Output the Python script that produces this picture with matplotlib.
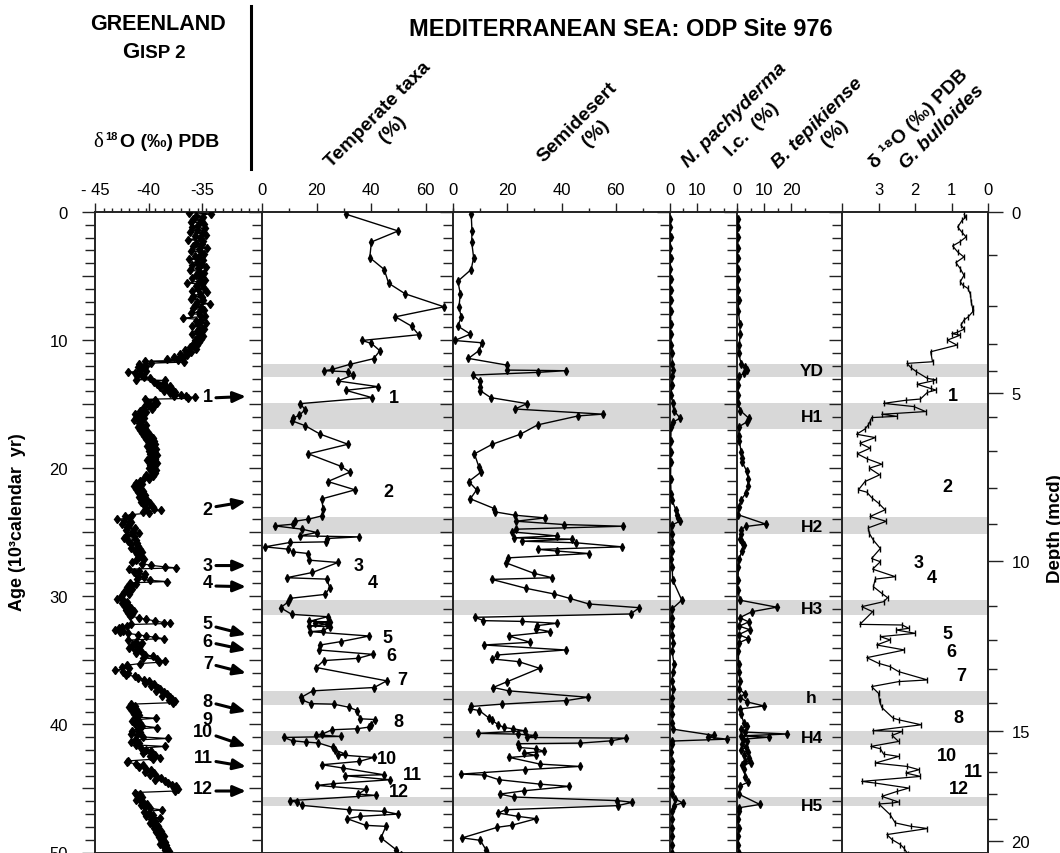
import matplotlib
matplotlib.use("Agg")
import matplotlib.pyplot as plt
from matplotlib.lines import Line2D
from matplotlib.ticker import FixedLocator, MultipleLocator

plt.rcParams['font.family'] = ['Liberation Sans', 'DejaVu Sans']

# ---------------- data ----------------
# GISP2 d18O vs age (kyr)
gisp_age = [
    0.05, 0.15, 0.28, 0.40, 0.52, 0.65, 0.78, 0.90, 1.03, 1.15,
    1.28, 1.40, 1.53, 1.65, 1.78, 1.90, 2.03, 2.15, 2.28, 2.40,
    2.53, 2.65, 2.78, 2.90, 3.03, 3.15, 3.28, 3.40, 3.53, 3.65,
    3.78, 3.90, 4.03, 4.15, 4.28, 4.40, 4.53, 4.65, 4.78, 4.90,
    5.03, 5.15, 5.28, 5.40, 5.53, 5.65, 5.78, 5.90, 6.03, 6.15,
    6.28, 6.40, 6.53, 6.65, 6.78, 6.90, 7.03, 7.15, 7.28, 7.40,
    7.53, 7.65, 7.78, 7.90, 8.03, 8.15, 8.28, 8.40, 8.53, 8.65,
    8.78, 8.90, 9.03, 9.15, 9.28, 9.40, 9.53, 9.65, 9.78, 9.90,
    10.03, 10.15, 10.28, 10.40, 10.55, 10.68, 10.80, 10.92, 11.05, 11.18,
    11.30, 11.40, 11.50, 11.58, 11.65, 11.72, 11.80, 11.90, 12.00, 12.10,
    12.20, 12.30, 12.40, 12.50, 12.58, 12.68, 12.78, 12.88, 12.98, 13.08,
    13.15, 13.25, 13.35, 13.45, 13.55, 13.65, 13.75, 13.85, 13.95, 14.05,
    14.15, 14.25, 14.33, 14.40, 14.48, 14.55, 14.62, 14.70, 14.80, 14.90,
    15.00, 15.12, 15.25, 15.38, 15.50, 15.62, 15.75, 15.88, 16.00, 16.12,
    16.25, 16.38, 16.50, 16.62, 16.75, 16.88, 17.00, 17.12, 17.25, 17.38,
    17.50, 17.62, 17.75, 17.88, 18.00, 18.12, 18.25, 18.38, 18.50, 18.62,
    18.75, 18.88, 19.00, 19.12, 19.25, 19.38, 19.50, 19.62, 19.75, 19.88,
    20.00, 20.12, 20.25, 20.38, 20.50, 20.62, 20.75, 20.88, 21.00, 21.12,
    21.25, 21.38, 21.50, 21.62, 21.75, 21.88, 22.00, 22.12, 22.25, 22.38,
    22.50, 22.62, 22.75, 22.88, 23.00, 23.10, 23.20, 23.30, 23.40, 23.50,
    23.62, 23.75, 23.88, 24.00, 24.10, 24.20, 24.32, 24.45, 24.58, 24.70,
    24.82, 24.95, 25.08, 25.20, 25.32, 25.45, 25.58, 25.70, 25.82, 25.95,
    26.08, 26.20, 26.32, 26.45, 26.58, 26.70, 26.82, 26.95, 27.08, 27.20,
    27.32, 27.45, 27.58, 27.70, 27.78, 27.88, 28.00, 28.12, 28.25, 28.38,
    28.50, 28.62, 28.75, 28.85, 28.95, 29.05, 29.18, 29.30, 29.42, 29.55,
    29.68, 29.80, 29.92, 30.05, 30.18, 30.30, 30.42, 30.55, 30.68, 30.80,
    30.92, 31.05, 31.18, 31.30, 31.42, 31.55, 31.68, 31.80, 31.92, 32.05,
    32.12, 32.20, 32.30, 32.40, 32.50, 32.60, 32.70, 32.80, 32.90, 33.00,
    33.10, 33.20, 33.30, 33.42, 33.55, 33.68, 33.80, 33.92, 34.05, 34.18,
    34.30, 34.42, 34.55, 34.68, 34.80, 34.92, 35.05, 35.15, 35.25, 35.38,
    35.50, 35.62, 35.75, 35.88, 36.00, 36.12, 36.25, 36.38, 36.50, 36.62,
    36.75, 36.88, 37.00, 37.12, 37.25, 37.38, 37.50, 37.62, 37.75, 37.88,
    38.00, 38.10, 38.20, 38.30, 38.42, 38.55, 38.68, 38.80, 38.92, 39.05,
    39.18, 39.30, 39.42, 39.52, 39.62, 39.75, 39.88, 40.00, 40.12, 40.25,
    40.35, 40.48, 40.60, 40.72, 40.85, 40.98, 41.10, 41.22, 41.35, 41.48,
    41.60, 41.72, 41.85, 41.98, 42.10, 42.22, 42.35, 42.48, 42.60, 42.72,
    42.85, 42.95, 43.08, 43.20, 43.32, 43.45, 43.58, 43.70, 43.82, 43.95,
    44.08, 44.20, 44.32, 44.45, 44.58, 44.70, 44.82, 44.95, 45.08, 45.20,
    45.32, 45.42, 45.55, 45.68, 45.80, 45.92, 46.05, 46.18, 46.30, 46.42,
    46.55, 46.68, 46.80, 46.92, 47.05, 47.18, 47.30, 47.42, 47.55, 47.68,
    47.80, 47.92, 48.05, 48.18, 48.30, 48.42, 48.55, 48.68, 48.80, 48.92,
    49.05, 49.18, 49.30, 49.42, 49.55, 49.68, 49.80, 49.92, 50.00, 50.10,
]
gisp_d18o = [
    -36.2, -34.2, -35.6, -34.9, -35.8, -35.1, -36.0, -34.8, -35.4, -35.9,
    -34.7, -35.5, -36.1, -35.0, -34.6, -35.7, -35.2, -36.3, -34.9, -35.6,
    -35.0, -35.8, -34.5, -35.3, -36.0, -35.1, -34.8, -35.7, -35.3, -36.2,
    -34.9, -35.5, -35.0, -35.9, -34.6, -35.4, -36.1, -35.2, -34.8, -35.6,
    -35.1, -35.9, -34.7, -35.3, -36.4, -35.0, -35.6, -34.8, -35.4, -35.9,
    -34.5, -35.2, -35.8, -35.0, -36.0, -34.9, -35.5, -34.3, -35.7, -35.1,
    -35.8, -34.8, -35.3, -36.0, -35.2, -34.7, -36.8, -35.1, -35.6, -34.6,
    -35.4, -35.9, -35.0, -34.8, -35.5, -35.2, -35.9, -34.9, -35.4, -35.1,
    -35.7, -35.3, -35.8, -35.5, -36.1, -35.6, -36.6, -36.0, -37.1, -36.4,
    -37.6, -36.8, -38.3, -37.2, -40.3, -36.7, -39.8, -40.9, -40.2, -41.0,
    -40.4, -40.8, -40.2, -41.9, -41.3, -40.7, -41.1, -40.4, -39.9, -41.2,
    -38.5, -39.5, -38.6, -39.2, -38.0, -38.9, -38.3, -37.8, -38.6, -37.5,
    -38.0, -37.0, -37.6, -36.5, -35.7, -36.3, -40.3, -39.4, -40.1, -39.2,
    -40.0, -39.5, -40.4, -39.7, -40.8, -40.2, -41.3, -40.6, -41.1, -40.4,
    -41.4, -40.7, -40.9, -40.2, -41.0, -40.5, -40.8, -40.1, -40.6, -39.9,
    -40.4, -39.6, -40.2, -39.5, -40.0, -39.4, -40.1, -39.7, -39.3, -40.0,
    -39.5, -39.9, -39.2, -39.8, -39.4, -40.1, -39.6, -39.2, -39.9, -39.5,
    -40.0, -39.3, -39.8, -39.4, -40.2, -39.6, -40.4, -40.0, -40.8, -41.2,
    -40.6, -41.4, -40.9, -41.2, -40.5, -41.0, -40.7, -40.3, -40.9, -40.4,
    -40.1, -40.7, -39.9, -40.4, -39.6, -40.2, -39.5, -38.8, -40.5, -40.0,
    -41.5, -42.2, -41.8, -42.9, -42.3, -41.6, -42.5, -41.8, -42.0, -41.3,
    -42.1, -41.5, -40.9, -42.0, -41.4, -42.3, -41.2, -41.9, -41.1, -41.6,
    -41.0, -41.6, -40.8, -41.3, -40.6, -41.1, -40.7, -40.9, -40.4, -41.2,
    -41.5, -40.6, -39.8, -38.5, -37.4, -41.8, -40.9, -41.4, -40.3, -41.0,
    -40.4, -41.1, -39.9, -38.3, -41.7, -41.2, -41.6, -42.0, -41.5, -41.9,
    -42.3, -41.8, -42.5, -42.6, -42.9, -42.4, -42.0, -42.5, -41.9, -42.2,
    -41.6, -42.1, -41.4, -41.9, -41.5, -41.7, -40.9, -40.2, -39.4, -38.6,
    -38.0, -41.6, -42.0, -42.5, -42.8, -43.1, -42.4, -42.7, -41.9, -41.0,
    -40.2, -39.4, -38.6, -41.9, -41.2, -40.6, -41.5, -40.9, -41.8, -41.3,
    -40.7, -41.2, -40.3, -39.6, -40.5, -39.2, -38.5, -39.0, -40.8, -42.0,
    -42.5, -41.8, -43.1, -42.4, -41.9, -42.1, -41.3, -41.0, -40.4, -40.0,
    -40.3, -39.5, -39.8, -39.1, -38.9, -39.3, -38.6, -38.3, -38.7, -38.0,
    -37.8, -38.1, -37.5, -37.7, -41.6, -41.3, -41.8, -41.2, -41.5, -41.0,
    -41.4, -40.9, -41.2, -39.3, -41.0, -41.5, -40.8, -41.3, -40.6, -39.2,
    -41.0, -41.5, -40.8, -41.6, -41.1, -40.5, -38.2, -41.3, -41.6, -40.9,
    -41.2, -38.5, -40.7, -40.2, -39.8, -40.5, -39.4, -39.9, -38.9, -39.6,
    -41.9, -42.0, -41.2, -40.5, -40.9, -40.2, -39.8, -40.3, -39.5, -39.9,
    -39.2, -38.8, -39.4, -38.5, -38.2, -37.8, -37.4, -37.6, -37.2, -37.5,
    -41.3, -40.8, -41.1, -40.6, -40.9, -41.2, -40.5, -40.1, -40.7, -40.3,
    -39.9, -38.7, -40.4, -40.0, -39.6, -40.2, -38.9, -39.8, -39.4, -39.9,
    -39.6, -39.1, -39.5, -39.2, -38.8, -39.3, -38.9, -38.6, -39.0, -38.7,
    -38.8, -38.5, -38.9, -38.4, -38.6, -38.3, -38.5, -38.1, -38.3, -38.2,
]

# Temperate taxa (%)
temp_age = [0.18, 1.48, 2.34, 3.56, 4.49, 5.56, 6.39, 7.40, 8.18, 8.91,
            9.58, 10.03, 10.26, 10.83, 11.45, 11.90, 12.29, 12.39, 12.47, 12.73,
            13.19, 13.64, 13.92, 14.49, 14.96, 15.43, 15.87, 16.10, 16.31, 16.68,
            17.35, 18.13, 18.88, 19.84, 20.31, 21.04, 21.69, 22.39, 23.15, 23.72,
            23.98, 24.14, 24.37, 24.50, 24.76, 25.02, 25.28, 25.36, 25.49, 25.75,
            25.80, 26.14, 26.32, 26.53, 26.66, 27.18, 27.36, 28.14, 28.55, 28.66,
            29.33, 29.85, 30.16, 30.47, 30.89, 31.41, 31.59, 31.95, 32.00, 32.05,
            32.19, 32.32, 32.37, 32.68, 32.76, 33.10, 33.54, 33.80, 34.19, 34.53,
            34.84, 35.02, 35.56, 36.60, 37.12, 37.38, 37.90, 38.08, 38.38, 38.42,
            38.66, 38.92, 39.56, 39.62, 40.03, 40.21, 40.34, 40.42, 40.76, 40.81,
            40.94, 41.02, 41.28, 41.38, 41.45, 41.80, 42.01, 42.32, 42.37, 42.58,
            42.89, 43.15, 43.41, 43.93, 44.01, 44.32, 44.63, 44.76, 45.07, 45.44,
            45.54, 45.95, 46.08, 46.32, 46.66, 46.79, 47.00, 47.18, 47.36, 47.88,
            47.96, 48.86, 49.77, 50.20]
temp_pct = [30.9, 49.9, 40.1, 39.5, 44.8, 46.4, 52.5, 66.7, 48.9, 54.8,
            57.4, 36.7, 40.1, 43.2, 40.9, 32.1, 25.7, 22.8, 31.5, 33.3,
            27.8, 42.6, 30.7, 40.3, 14.0, 15.8, 13.7, 11.2, 11.1, 15.8,
            21.4, 31.5, 17.0, 28.8, 32.2, 24.1, 34.1, 22.0, 22.3, 22.0,
            17.0, 12.1, 11.5, 4.7, 14.6, 20.1, 13.9, 35.6, 23.8, 23.6,
            10.2, 1.0, 9.6, 11.2, 17.0, 17.3, 27.8, 18.5, 9.0, 23.8,
            24.8, 23.2, 10.2, 9.4, 6.8, 10.9, 24.1, 17.4, 25.1, 19.5,
            23.8, 17.4, 25.1, 22.3, 17.7, 39.3, 28.8, 21.4, 21.0, 40.5,
            35.2, 22.6, 19.9, 45.7, 41.1, 18.6, 14.3, 14.6, 18.0, 26.3,
            31.9, 34.9, 35.9, 41.4, 39.9, 39.3, 34.7, 25.7, 22.0, 19.9,
            28.8, 8.0, 11.2, 16.2, 20.7, 26.0, 26.9, 30.6, 27.8, 40.9,
            35.6, 22.0, 29.8, 44.6, 30.6, 47.0, 26.0, 20.1, 38.0, 35.2,
            41.7, 10.2, 12.7, 14.6, 31.9, 44.6, 49.8, 35.9, 31.2, 38.0,
            45.4, 43.6, 49.1, 51.0]

# Semidesert (%)
semi_age = [0.13, 1.48, 2.34, 3.56, 4.49, 5.40, 6.39, 7.40, 8.18, 8.91,
            9.53, 10.03, 10.21, 10.83, 11.43, 11.95, 12.34, 12.39, 12.52, 12.73,
            13.19, 13.64, 13.95, 14.49, 14.96, 15.38, 15.78, 15.92, 16.62, 17.35,
            18.13, 18.88, 19.87, 20.31, 21.04, 21.69, 22.39, 23.15, 23.41, 23.67,
            23.88, 24.14, 24.40, 24.53, 24.76, 24.97, 25.28, 25.44, 25.54, 25.70,
            25.82, 26.14, 26.34, 26.47, 26.66, 27.00, 27.38, 28.21, 28.55, 28.68,
            29.38, 29.82, 30.16, 30.60, 30.89, 31.38, 31.64, 31.90, 31.96, 32.11,
            32.29, 32.55, 32.76, 33.10, 33.59, 33.80, 34.19, 34.58, 34.89, 35.10,
            35.62, 36.66, 37.12, 37.38, 37.88, 38.14, 38.42, 38.60, 38.79, 38.92,
            39.51, 39.69, 40.03, 40.24, 40.34, 40.50, 40.70, 40.76, 40.86, 41.02,
            41.07, 41.28, 41.46, 41.51, 41.80, 41.90, 42.11, 42.24, 42.42, 42.58,
            43.10, 43.28, 43.54, 43.88, 43.95, 44.32, 44.66, 44.84, 45.18, 45.44,
            45.67, 45.95, 46.08, 46.34, 46.66, 46.92, 47.18, 47.36, 47.88, 48.03,
            48.86, 49.05, 49.77, 50.20]
semi_pct = [6.7, 7.0, 6.9, 7.6, 6.7, 1.8, 2.7, 2.2, 3.0, 1.8,
            6.4, 0.6, 10.7, 9.5, 5.7, 19.8, 19.8, 41.5, 31.2, 7.3,
            9.9, 10.1, 10.1, 13.9, 27.3, 22.8, 55.2, 46.1, 31.2, 24.8,
            14.5, 7.9, 9.5, 10.3, 5.8, 8.7, 6.4, 15.2, 15.5, 22.8,
            33.9, 23.3, 41.0, 62.8, 23.3, 21.6, 38.2, 22.4, 44.0, 25.5,
            45.2, 62.4, 31.5, 38.5, 50.1, 20.2, 19.4, 29.9, 36.6, 14.3,
            27.0, 37.3, 43.0, 50.1, 68.7, 65.5, 8.1, 11.2, 25.5, 38.2,
            30.9, 30.7, 35.8, 20.6, 28.5, 11.5, 41.5, 16.4, 14.5, 24.2,
            31.9, 20.0, 14.8, 20.6, 49.7, 41.8, 17.9, 6.7, 6.3, 9.7,
            13.3, 14.5, 16.7, 18.8, 22.1, 26.4, 9.1, 23.9, 30.1, 27.3,
            63.6, 58.4, 47.0, 23.9, 24.2, 30.5, 33.7, 26.1, 30.5, 20.8,
            32.1, 46.7, 26.4, 3.0, 11.5, 17.0, 31.9, 42.8, 26.3, 17.3,
            22.4, 60.6, 66.1, 60.8, 19.4, 16.7, 23.9, 30.7, 21.6, 16.4,
            3.4, 10.1, 12.1, 13.0]

# N. pachyderma l.c. (%)
npach_age = [0.51, 1.16, 1.98, 2.80, 3.62, 4.44, 5.26, 6.08, 6.90, 7.72,
             8.71, 9.53, 10.35, 11.00, 11.83, 12.32, 12.81, 13.47, 14.29, 14.94,
             15.50, 16.09, 16.40, 16.75, 17.90, 18.71, 19.54, 20.85, 22.00, 22.49,
             23.30, 23.64, 23.90, 24.13, 24.46, 25.12, 25.77, 26.43, 27.08, 27.74,
             28.72, 30.30, 31.02, 31.67, 32.33, 32.99, 33.64, 34.30, 35.28, 35.94,
             36.60, 37.25, 37.91, 38.56, 39.22, 39.88, 40.37, 40.86, 41.00, 41.15,
             41.30, 41.52, 42.17, 42.83, 43.48, 44.14, 44.80, 45.46, 45.85, 46.11,
             46.35, 46.77, 47.42, 48.08, 48.74, 49.40, 50.00]
npach_pct = [0.1, 0.1, 0.2, 0.1, 0.2, 0.1, 0.2, 0.2, 0.3, 0.2,
             0.3, 0.3, 0.5, 0.6, 0.9, 1.3, 0.8, 0.6, 0.5, 1.0,
             1.4, 3.8, 1.2, 0.4, 0.3, 0.3, 0.3, 0.2, 0.4, 0.8,
             2.2, 2.6, 3.1, 3.7, 0.6, 0.7, 0.9, 0.6, 0.5, 0.8,
             1.0, 4.4, 0.6, 0.8, 0.6, 0.9, 1.1, 0.8, 1.5, 1.0,
             0.7, 1.1, 0.9, 0.6, 0.8, 0.7, 1.0, 16.4, 14.2, 21.4,
             0.7, 0.9, 0.5, 0.8, 0.7, 0.9, 0.6, 0.8, 2.0, 4.7,
             1.5, 0.7, 0.9, 0.6, 0.8, 0.7, 0.9]

# B. tepikiense (%)
btep_age = [0.51, 1.16, 1.98, 2.80, 3.62, 4.44, 5.26, 6.08, 6.90, 7.72,
            8.71, 9.53, 10.35, 11.00, 11.83, 12.10, 12.32, 12.60, 12.81, 13.47,
            14.29, 14.94, 15.50, 16.09, 16.40, 16.75, 17.50, 17.90, 18.71, 19.20,
            19.54, 20.20, 20.85, 21.40, 21.90, 22.49, 23.00, 23.64, 24.36, 24.55,
            24.80, 25.12, 25.50, 25.77, 26.00, 26.43, 27.08, 27.74, 28.72, 29.50,
            30.30, 30.85, 31.20, 31.67, 32.00, 32.33, 32.60, 32.99, 33.30, 33.64,
            34.30, 35.28, 35.94, 36.60, 37.25, 37.60, 37.91, 38.25, 38.56, 38.80,
            39.22, 39.88, 40.10, 40.37, 40.60, 40.75, 40.90, 41.00, 41.15, 41.30,
            41.52, 41.80, 42.00, 42.17, 42.40, 42.60, 42.83, 43.00, 43.20, 43.48,
            44.14, 44.50, 44.80, 45.46, 46.25, 46.50, 46.77, 47.42, 48.08, 48.74,
            49.40, 50.00]
btep_pct = [0.3, 0.2, 0.3, 0.4, 0.2, 0.3, 0.5, 0.4, 0.6, 0.5,
            1.0, 1.2, 0.8, 0.6, 1.5, 3.0, 3.7, 2.5, 0.9, 0.5,
            0.4, 0.3, 1.2, 4.3, 3.5, 0.8, 0.6, 0.9, 1.5, 1.9,
            2.0, 3.5, 4.2, 4.0, 3.4, 1.5, 0.7, 0.5, 10.5, 3.2,
            1.5, 1.5, 1.2, 2.0, 2.5, 1.8, 0.8, 0.5, 0.4, 0.3,
            1.0, 14.6, 5.5, 1.0, 4.3, 0.8, 4.6, 0.6, 4.2, 0.6,
            0.5, 0.6, 0.8, 1.0, 0.9, 2.8, 1.2, 3.8, 9.9, 1.0,
            1.5, 2.5, 3.8, 1.5, 3.0, 18.5, 1.5, 11.7, 2.3, 3.5,
            1.8, 3.2, 1.5, 3.9, 2.5, 4.5, 3.0, 5.0, 2.0, 2.6,
            3.0, 4.2, 1.0, 0.8, 8.4, 0.9, 0.7, 0.5, 0.6, 0.4,
            0.5, 0.6]

# d18O G. bulloides (permil PDB)
bull_age = [0.20, 0.40, 0.65, 1.17, 1.56, 1.95, 2.34, 2.65, 3.12, 3.51,
            3.95, 4.42, 4.94, 5.45, 5.71, 5.97, 6.44, 7.01, 7.53, 7.79,
            8.18, 8.44, 8.83, 9.14, 9.40, 9.50, 9.61, 10.00, 10.39, 10.91,
            11.69, 11.82, 12.13, 12.47, 12.99, 13.10, 13.19, 13.45, 13.77, 13.90,
            14.08, 14.60, 14.70, 14.94, 15.19, 15.58, 15.79, 15.95, 16.05, 16.36,
            16.62, 16.94, 17.35, 17.61, 18.05, 18.44, 18.88, 19.27, 19.69, 20.00,
            20.52, 21.04, 21.69, 21.87, 22.29, 22.73, 23.25, 23.77, 24.15, 24.66,
            25.10, 25.62, 26.27, 27.05, 27.30, 27.88, 28.47, 28.66, 29.25, 29.77,
            30.11, 30.42, 30.81, 31.20, 32.19, 32.24, 32.50, 32.63, 32.89, 33.15,
            33.41, 33.80, 34.19, 34.79, 35.23, 35.49, 35.88, 36.53, 36.66, 37.05,
            37.57, 38.21, 38.68, 39.51, 39.64, 40.03, 40.50, 40.55, 40.86, 41.33,
            41.72, 41.90, 42.32, 42.50, 43.02, 43.28, 43.54, 43.80, 44.06, 44.45,
            44.58, 44.97, 45.23, 45.62, 46.06, 46.14, 46.21, 47.05, 47.69, 47.95,
            48.13, 48.60, 48.99, 49.38, 49.64, 50.10]
bull_d18o = [0.65, 0.60, 0.71, 0.83, 0.72, 0.60, 0.78, 0.97, 0.83, 0.66,
             0.88, 0.76, 0.66, 0.76, 0.69, 0.55, 0.48, 0.46, 0.42, 0.42,
             0.54, 0.66, 0.74, 0.65, 0.85, 0.99, 0.76, 1.11, 0.85, 1.57,
             1.52, 2.22, 2.12, 1.96, 1.66, 1.43, 1.52, 1.94, 1.57, 1.43,
             1.66, 1.85, 2.26, 2.86, 2.03, 1.71, 2.91, 2.49, 3.19, 3.23,
             3.28, 3.37, 3.60, 3.09, 3.51, 3.23, 3.58, 3.31, 2.91, 3.25,
             2.97, 3.37, 3.55, 3.32, 3.19, 3.00, 2.82, 3.23, 2.79, 3.28,
             3.25, 3.14, 2.95, 3.19, 2.95, 3.16, 2.54, 3.09, 3.14, 2.91,
             2.75, 2.86, 3.46, 3.16, 3.51, 2.35, 2.17, 2.51, 1.99, 2.95,
             2.68, 3.05, 2.29, 3.32, 3.00, 2.68, 2.45, 1.66, 2.45, 3.19,
             3.00, 2.97, 2.91, 2.60, 2.45, 1.83, 3.16, 2.35, 2.63, 2.45,
             3.21, 2.95, 2.86, 2.45, 3.09, 2.22, 1.89, 2.25, 1.85, 3.46,
             3.09, 2.17, 2.49, 2.91, 2.45, 2.63, 2.99, 2.68, 2.54, 2.12,
             1.66, 2.77, 2.63, 2.40, 2.31, 2.20]

# cold events (grey bands), ages in kyr
band_start = [11.85, 14.90, 23.80, 30.30, 37.40, 40.55, 45.70]
band_end = [12.87, 16.97, 25.10, 31.46, 38.50, 41.60, 46.40]
band_name = ['YD', 'H1', 'H2', 'H3', 'h', 'H4', 'H5']
band_name_age = [12.38, 16.00, 24.55, 30.92, 37.90, 41.05, 46.30]

# depth scale (mcd) and the ages where its ticks sit
depth_m = [0, 1, 2, 3, 4, 5, 6, 7, 8, 9, 10, 11, 12, 13, 14, 15, 16, 17, 18, 19, 20]
depth_age = [0.0, 3.35, 7.33, 10.29, 12.39, 14.10, 15.98, 18.63, 21.51, 24.32, 27.28,
             30.79, 33.44, 35.70, 38.35, 40.53, 42.24, 43.73, 45.44, 47.39, 49.10]

# interstadial numbers
gisp_num = ['1', '2', '3', '4', '5', '6', '7', '8', '9', '10', '11', '12']
gisp_num_age = [14.4, 23.2, 27.6, 28.9, 32.1, 33.5, 35.25, 38.2, 39.65, 40.55, 42.6, 45.0]
arrow_tail_age = [14.5, 23.0, 27.6, 29.2, 32.4, 33.7, 35.4, 38.4, None, 40.9, 42.9, 45.2]
arrow_tip_age = [14.4, 22.6, 27.6, 29.25, 33.0, 34.2, 36.0, 39.0, None, 41.7, 43.3, 45.2]

temp_num = ['1', '2', '3', '4', '5', '6', '7', '8', '10', '11', '12']
temp_num_x = [48.4, 46.2, 35.5, 40.7, 45.8, 47.3, 51.3, 49.8, 45.8, 55.0, 50.2]
temp_num_age = [14.5, 21.8, 27.6, 28.9, 33.2, 34.6, 36.5, 39.8, 42.7, 43.9, 45.2]
bull_num_x = [0.95, 1.12, 1.91, 1.53, 1.12, 1.00, 0.73, 0.81, 1.12, 0.40, 0.79]
bull_num_age = [14.35, 21.45, 27.4, 28.55, 32.9, 34.3, 36.2, 39.5, 42.4, 43.7, 45.0]

# ---------------- figure ----------------
W, H = 1060, 854
fig = plt.figure(figsize=(W / 100, H / 100), dpi=100)
TOP, BOT = 213, 853.5
GREY = '#d8d8d8'
NUMFONT = ['Liberation Sans Narrow', 'Liberation Sans', 'DejaVu Sans']


def fx(x):
    return x / W


def fy(y):
    return 1 - y / H


def panel(x0, x1, xlim):
    ax = fig.add_axes([fx(x0), fy(BOT), (x1 - x0) / W, (BOT - TOP) / H])
    ax.patch.set_alpha(0)
    ax.set_xlim(*xlim)
    ax.set_ylim(50, 0)
    ax.spines['right'].set_visible(False)
    for s in ax.spines.values():
        s.set_linewidth(1.4)
        s.set_color('#222222')
    ax.xaxis.tick_top()
    ax.tick_params(axis='x', which='major', direction='out', length=6.5, width=1.0,
                   labelsize=12, pad=4.5, color='#222222')
    ax.tick_params(axis='x', which='minor', direction='out', length=3.2, width=1.0,
                   color='#222222')
    ax.yaxis.set_major_locator(MultipleLocator(5))
    ax.yaxis.set_minor_locator(MultipleLocator(1))
    ax.tick_params(axis='y', which='major', direction='out', length=9.5, width=1.0,
                   labelleft=False, color='#222222')
    ax.tick_params(axis='y', which='minor', direction='out', length=7, width=1.0,
                   color='#222222')
    return ax


def bands(ax):
    for a, b in zip(band_start, band_end):
        ax.axhspan(a, b, color=GREY, lw=0, zorder=0)


line_kw = dict(color='black', lw=1.0, mfc='black', mec='black', zorder=3)

# GISP2
ax1 = panel(95, 262, (-45, -29.4))
ax1.set_xticks([-45, -40, -35], labels=['- 45', '-40', '-35'])
ax1.xaxis.set_minor_locator(FixedLocator([-45 + 0.8 * i for i in range(20)]))
ax1.set_yticks([0, 5, 10, 15, 20, 25, 30, 35, 40, 45, 50],
               labels=['0', '', '10', '', '20', '', '30', '', '40', '', '50'])
ax1.tick_params(axis='y', labelleft=True, labelsize=12, pad=10)
ax1.plot(gisp_d18o, gisp_age, marker='d', ms=4.5, lw=0.9, color='black',
         mfc='black', mec='black', zorder=3)
for i, lab in enumerate(gisp_num):
    ax1.text(-34.0, gisp_num_age[i], lab, ha='right', va='center', fontsize=13,
             fontweight='bold', family=NUMFONT)
    if arrow_tail_age[i] is not None:
        ax1.annotate('', xy=(-30.9, arrow_tip_age[i]), xytext=(-33.7, arrow_tail_age[i]),
                     arrowprops=dict(arrowstyle='-|>,head_length=0.75,head_width=0.32',
                                     lw=2.2, color='black', shrinkA=0, shrinkB=0),
                     annotation_clip=False)

# Temperate taxa
ax2 = panel(262, 453, (0, 70))
ax2.set_xticks([0, 20, 40, 60])
ax2.xaxis.set_minor_locator(FixedLocator([10, 30, 50, 70]))
bands(ax2)
ax2.plot(temp_pct, temp_age, marker='d', ms=4.2, **line_kw)
for lab, x, a in zip(temp_num, temp_num_x, temp_num_age):
    ax2.text(x, a, lab, ha='center', va='center', fontsize=13, fontweight='bold',
             family=NUMFONT)

# Semidesert
ax3 = panel(453, 670, (0, 80))
ax3.set_xticks([0, 20, 40, 60])
ax3.xaxis.set_minor_locator(FixedLocator([10, 30, 50, 70]))
bands(ax3)
ax3.plot(semi_pct, semi_age, marker='d', ms=4.2, **line_kw)

# N. pachyderma
ax4 = panel(670, 737, (0, 25))
ax4.set_xticks([0, 10])
ax4.xaxis.set_minor_locator(FixedLocator([5, 15, 20, 25]))
bands(ax4)
ax4.plot(npach_pct, npach_age, marker='d', ms=4, **line_kw)

# B. tepikiense
ax5 = panel(737, 842, (0, 38.6))
ax5.set_xticks([0, 10, 20])
ax5.xaxis.set_minor_locator(FixedLocator([5, 15, 25]))
bands(ax5)
ax5.plot(btep_pct, btep_age, marker='d', ms=4, **line_kw)
for lab, a in zip(band_name, band_name_age):
    ax5.text(27.4, a, lab, ha='center', va='center', fontsize=12.5, fontweight='bold',
             zorder=5)

# d18O G. bulloides
ax6 = panel(842, 988, (4, 0))
ax6.spines['right'].set_visible(True)
ax6.set_xticks([4, 3, 2, 1, 0], labels=['', '3', '2', '1', '0'])
bands(ax6)
ax6.plot(bull_d18o, bull_age, marker='|', ms=5, mew=1.0, color='black', lw=0.9, zorder=3)
for lab, x, a in zip(temp_num, bull_num_x, bull_num_age):
    ax6.text(x, a, lab, ha='center', va='center', fontsize=13, fontweight='bold',
             family=NUMFONT)

# depth axis on the right
axd = ax6.twinx()
axd.set_ylim(50, 0)
for s in ['left', 'top', 'bottom']:
    axd.spines[s].set_visible(False)
axd.spines['right'].set_linewidth(1.4)
axd.spines['right'].set_color('#222222')
major_age = [a for d, a in zip(depth_m, depth_age) if d % 5 == 0]
major_lab = [str(d) for d in depth_m if d % 5 == 0]
minor_age = [a for d, a in zip(depth_m, depth_age) if d % 5 != 0]
axd.set_yticks(major_age, labels=major_lab)
axd.yaxis.set_minor_locator(FixedLocator(minor_age))
axd.tick_params(axis='y', which='major', direction='out', length=11, width=1.0,
                labelsize=12, pad=6, color='#222222')
axd.tick_params(axis='y', which='minor', direction='out', length=6.5, width=1.0,
                color='#222222')

# ---------------- header texts ----------------
bold = dict(fontweight='bold', color='black')
fig.text(fx(158), fy(24), 'GREENLAND', fontsize=15.5, ha='center', va='center', **bold)
fig.text(fx(139), fy(58), 'G', fontsize=16, ha='right', va='baseline', **bold)
fig.text(fx(139.5), fy(58), 'ISP 2', fontsize=13.5, ha='left', va='baseline', **bold)
fig.text(fx(93), fy(147), 'δ', fontsize=15, ha='left', va='baseline',
         family=['Liberation Serif', 'DejaVu Serif'])
fig.text(fx(105), fy(140), '18', fontsize=8, ha='left', va='baseline', **bold)
fig.text(fx(120), fy(147), 'O (‰) PDB', fontsize=14, ha='left', va='baseline', **bold)
fig.add_artist(Line2D([fx(251), fx(251)], [fy(7), fy(170)], color='black', lw=2.2))
fig.text(fx(621), fy(29), 'MEDITERRANEAN SEA: ODP Site 976', fontsize=17,
         ha='center', va='center', **bold)


def rot(x, y, s, style='normal'):
    fig.text(fx(x), fy(y), s, rotation=45, rotation_mode='anchor', ha='center',
             va='center', fontsize=14, fontstyle=style, **bold)


rot(378, 115, 'Temperate taxa')
rot(393, 129, '(%)')
rot(577, 123, 'Semidesert')
rot(596, 133, '(%)')
rot(734, 116, 'N. pachyderma', 'italic')
rot(752, 130, 'l.c.  (%)')
rot(818, 123, 'B. tepikiense', 'italic')
rot(835, 133, '(%)')
rot(918, 119, 'δ ¹⁸O (‰) PDB')
rot(942, 127, 'G. bulloides', 'italic')

fig.text(fx(18), fy(522), 'Age (10³calendar  yr)', rotation=90, fontsize=13,
         ha='center', va='center', **bold)
fig.text(fx(1055), fy(529), 'Depth (mcd)', rotation=90, fontsize=13.5,
         ha='center', va='center', **bold)

fig.savefig('out.png', dpi=100)
